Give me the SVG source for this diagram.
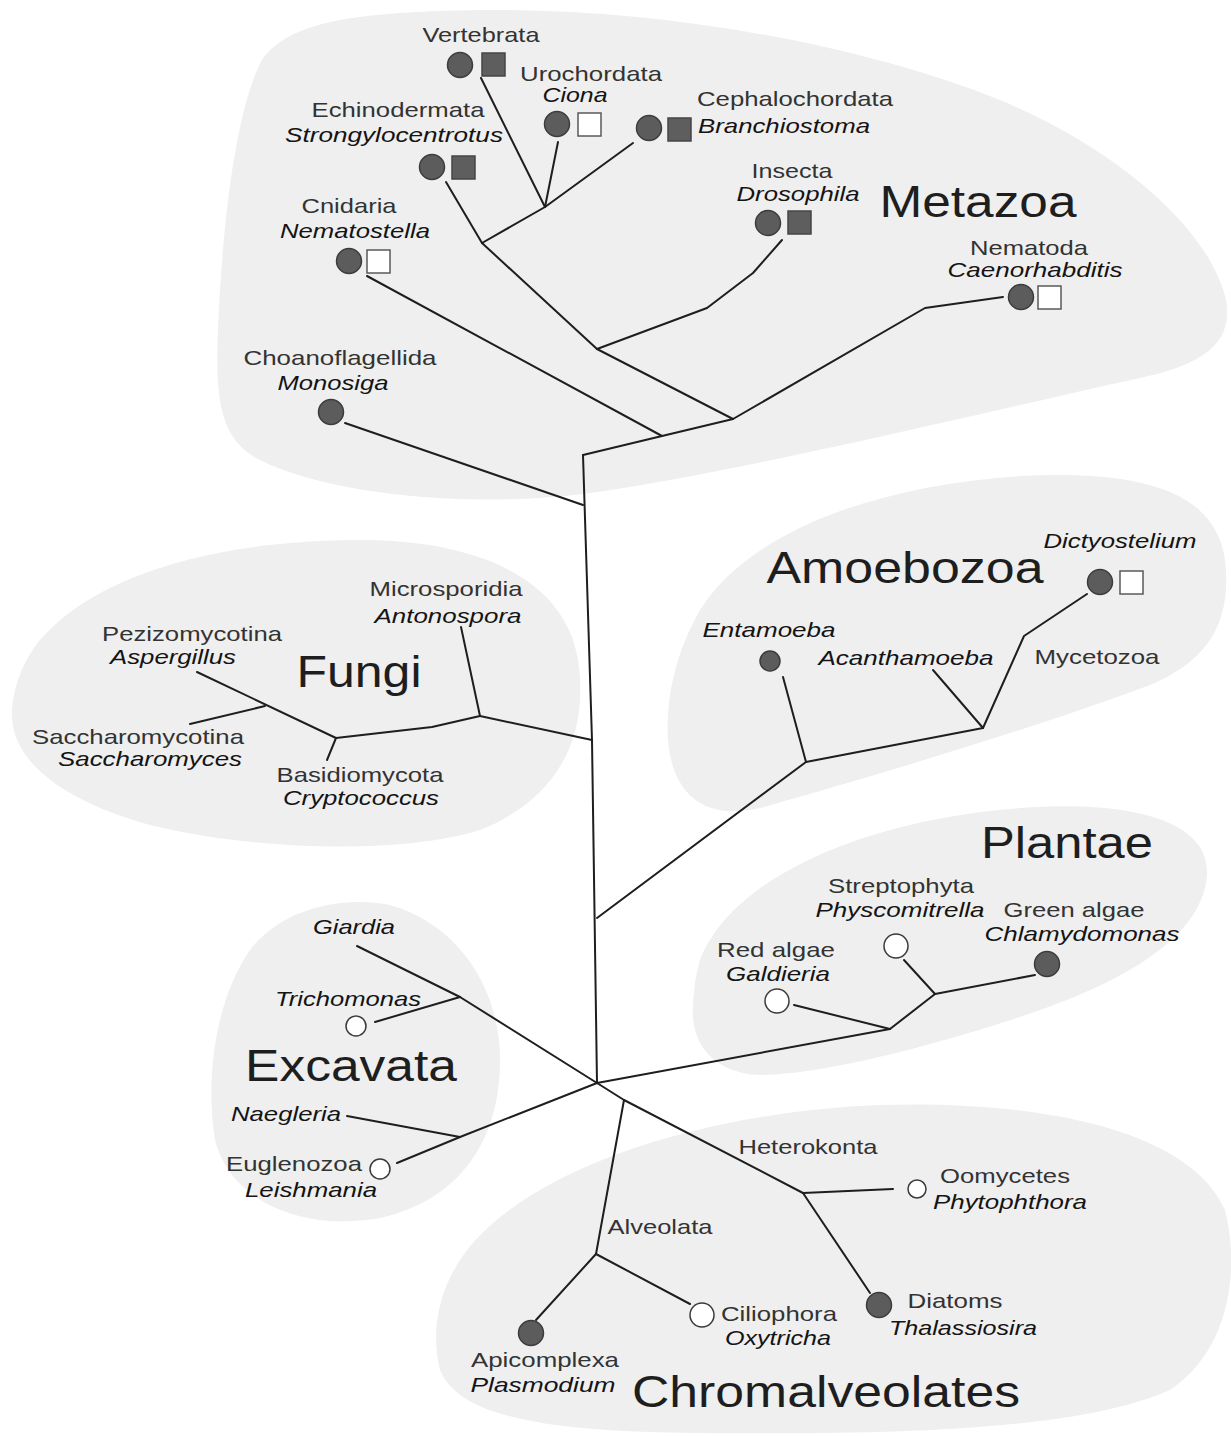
<svg xmlns="http://www.w3.org/2000/svg" width="1231" height="1436" viewBox="0 0 1231 1436">
<style>
.blob{fill:#efefef;stroke:none}
.edge{fill:none;stroke:#1e1e1e;stroke-width:2;stroke-linejoin:round;stroke-linecap:round}
.dk{fill:#5c5c5c;stroke:#3c3c3c;stroke-width:1.5}
.wt{fill:#ffffff;stroke:#3a3a3a;stroke-width:1.5}
.sqd{fill:#5e5e5e;stroke:#454545;stroke-width:1.5}
.sqw{fill:#ffffff;stroke:#5a5a5a;stroke-width:1.5}
text{font-family:"Liberation Sans",Arial,sans-serif;text-anchor:middle}
.r{font-size:21px;fill:#333333}
.i{font-size:21px;font-style:italic;fill:#141414}
.big{font-size:44px;fill:#1e1e1e}
</style>
<rect width="1231" height="1436" fill="#ffffff"/>
<g id="groups">
<path id="blob-metazoa" class="blob" d="M262,60 C290,20 360,12 480,10 C650,8 850,40 1000,100 C1120,150 1210,230 1226,300 C1234,345 1200,365 1140,378 C950,420 750,470 583,494 C470,508 330,495 260,460 C220,440 215,400 218,330 C222,230 235,110 262,60 Z"/>
<path id="blob-fungi" class="blob" d="M40,640 C100,570 230,540 360,540 C480,540 565,580 578,660 C590,740 555,800 480,830 C400,855 250,850 150,825 C60,800 12,760 12,715 C12,690 22,662 40,640 Z"/>
<path id="blob-amoebozoa" class="blob" d="M700,610 C750,530 880,485 1020,476 C1140,470 1215,490 1225,560 C1232,620 1210,660 1150,685 C1030,730 860,780 760,808 C700,822 672,790 668,740 C665,690 680,645 700,610 Z"/>
<path id="blob-plantae" class="blob" d="M700,960 C730,880 860,820 1020,808 C1130,800 1210,820 1207,875 C1203,930 1140,975 1040,1010 C940,1045 820,1075 760,1075 C710,1073 690,1040 693,1005 C694,988 696,973 700,960 Z"/>
<path id="blob-excavata" class="blob" d="M250,950 C280,910 340,895 390,905 C460,925 500,990 500,1060 C500,1140 460,1200 380,1218 C300,1232 230,1200 215,1140 C205,1080 215,1000 250,950 Z"/>
<path id="blob-chromalveolates" class="blob" d="M460,1260 C520,1170 700,1112 880,1105 C1040,1100 1190,1130 1225,1210 C1240,1270 1230,1350 1170,1390 C1080,1430 900,1435 700,1433 C560,1432 460,1420 440,1370 C430,1330 440,1290 460,1260 Z"/>
</g>
<g id="connectors">
<polyline class="edge" points="583,455 592,740 597,1083"/>
<polyline class="edge" points="345,423 583,505"/>
<polyline class="edge" points="583,455 662,436 733,419"/>
<polyline class="edge" points="367,276 662,436"/>
<polyline class="edge" points="733,419 597,349"/>
<polyline class="edge" points="597,349 707,308 753,273 782,240"/>
<polyline class="edge" points="733,419 925,308 1003,297"/>
<polyline class="edge" points="597,349 482,243"/>
<polyline class="edge" points="482,243 446,182"/>
<polyline class="edge" points="482,243 545,207"/>
<polyline class="edge" points="545,207 481,78"/>
<polyline class="edge" points="545,207 558,142"/>
<polyline class="edge" points="545,207 633,143"/>
<polyline class="edge" points="592,740 480,716"/>
<polyline class="edge" points="480,716 461,627"/>
<polyline class="edge" points="480,716 432,727 336,738"/>
<polyline class="edge" points="336,738 327,760"/>
<polyline class="edge" points="336,738 197,672"/>
<polyline class="edge" points="265,706 190,724"/>
<polyline class="edge" points="597,918 806,762"/>
<polyline class="edge" points="806,762 783,677"/>
<polyline class="edge" points="806,762 983,728"/>
<polyline class="edge" points="983,728 933,670"/>
<polyline class="edge" points="983,728 1024,636 1087,594"/>
<polyline class="edge" points="597,1083 890,1029"/>
<polyline class="edge" points="890,1029 794,1005"/>
<polyline class="edge" points="890,1029 935,994"/>
<polyline class="edge" points="935,994 904,960"/>
<polyline class="edge" points="935,994 1035,975"/>
<polyline class="edge" points="597,1083 460,997 357,946"/>
<polyline class="edge" points="460,997 375,1022"/>
<polyline class="edge" points="597,1083 460,1137"/>
<polyline class="edge" points="460,1137 347,1116"/>
<polyline class="edge" points="460,1137 397,1163"/>
<polyline class="edge" points="597,1083 624,1100 803,1193"/>
<polyline class="edge" points="624,1100 596,1254"/>
<polyline class="edge" points="596,1254 536,1320"/>
<polyline class="edge" points="596,1254 690,1304"/>
<polyline class="edge" points="803,1193 893,1189"/>
<polyline class="edge" points="803,1193 870,1293"/>
</g>
<g id="group-labels">
<text class="big" x="978" y="217" textLength="197" lengthAdjust="spacingAndGlyphs">Metazoa</text>
<text class="big" x="359" y="687" textLength="125" lengthAdjust="spacingAndGlyphs">Fungi</text>
<text class="big" x="905" y="583" textLength="277" lengthAdjust="spacingAndGlyphs">Amoebozoa</text>
<text class="big" x="1067" y="858" textLength="172" lengthAdjust="spacingAndGlyphs">Plantae</text>
<text class="big" x="351" y="1081" textLength="212" lengthAdjust="spacingAndGlyphs">Excavata</text>
<text class="big" x="826" y="1407" textLength="388" lengthAdjust="spacingAndGlyphs">Chromalveolates</text>
</g>
<g id="node-vertebrata">
<text class="r" x="481" y="42" textLength="117" lengthAdjust="spacingAndGlyphs">Vertebrata</text>
<circle class="dk" cx="460" cy="65" r="12.5"/>
<rect class="sqd" x="482" y="53" width="23" height="23"/>
</g>
<g id="node-urochordata">
<text class="r" x="591" y="81" textLength="142" lengthAdjust="spacingAndGlyphs">Urochordata</text>
<text class="i" x="575" y="102" textLength="65" lengthAdjust="spacingAndGlyphs">Ciona</text>
<circle class="dk" cx="557" cy="124" r="12.5"/>
<rect class="sqw" x="578" y="113" width="23" height="23"/>
</g>
<g id="node-echinodermata">
<text class="r" x="398" y="117" textLength="173" lengthAdjust="spacingAndGlyphs">Echinodermata</text>
<text class="i" x="394" y="142" textLength="218" lengthAdjust="spacingAndGlyphs">Strongylocentrotus</text>
<circle class="dk" cx="432" cy="167" r="12.5"/>
<rect class="sqd" x="452" y="156" width="23" height="23"/>
</g>
<g id="node-cephalochordata">
<text class="r" x="795" y="106" textLength="196" lengthAdjust="spacingAndGlyphs">Cephalochordata</text>
<text class="i" x="784" y="133" textLength="172" lengthAdjust="spacingAndGlyphs">Branchiostoma</text>
<circle class="dk" cx="649" cy="128" r="12.5"/>
<rect class="sqd" x="668" y="118" width="23" height="23"/>
</g>
<g id="node-insecta">
<text class="r" x="792" y="178" textLength="81" lengthAdjust="spacingAndGlyphs">Insecta</text>
<text class="i" x="798" y="201" textLength="123" lengthAdjust="spacingAndGlyphs">Drosophila</text>
<circle class="dk" cx="768" cy="223" r="12.5"/>
<rect class="sqd" x="788" y="211" width="23" height="23"/>
</g>
<g id="node-cnidaria">
<text class="r" x="349" y="213" textLength="95" lengthAdjust="spacingAndGlyphs">Cnidaria</text>
<text class="i" x="355" y="238" textLength="150" lengthAdjust="spacingAndGlyphs">Nematostella</text>
<circle class="dk" cx="349" cy="261" r="12.5"/>
<rect class="sqw" x="367" y="250" width="23" height="23"/>
</g>
<g id="node-nematoda">
<text class="r" x="1029" y="255" textLength="118" lengthAdjust="spacingAndGlyphs">Nematoda</text>
<text class="i" x="1035" y="277" textLength="175" lengthAdjust="spacingAndGlyphs">Caenorhabditis</text>
<circle class="dk" cx="1021" cy="297" r="12.5"/>
<rect class="sqw" x="1038" y="286" width="23" height="23"/>
</g>
<g id="node-choanoflagellida">
<text class="r" x="340" y="365" textLength="193" lengthAdjust="spacingAndGlyphs">Choanoflagellida</text>
<text class="i" x="333" y="390" textLength="111" lengthAdjust="spacingAndGlyphs">Monosiga</text>
<circle class="dk" cx="331" cy="412" r="12.5"/>
</g>
<g id="node-microsporidia">
<text class="r" x="446" y="596" textLength="153" lengthAdjust="spacingAndGlyphs">Microsporidia</text>
<text class="i" x="448" y="623" textLength="147" lengthAdjust="spacingAndGlyphs">Antonospora</text>
</g>
<g id="node-pezizomycotina">
<text class="r" x="192" y="641" textLength="180" lengthAdjust="spacingAndGlyphs">Pezizomycotina</text>
<text class="i" x="173" y="664" textLength="126" lengthAdjust="spacingAndGlyphs">Aspergillus</text>
</g>
<g id="node-saccharomycotina">
<text class="r" x="138" y="744" textLength="212" lengthAdjust="spacingAndGlyphs">Saccharomycotina</text>
<text class="i" x="150" y="766" textLength="184" lengthAdjust="spacingAndGlyphs">Saccharomyces</text>
</g>
<g id="node-basidiomycota">
<text class="r" x="360" y="782" textLength="167" lengthAdjust="spacingAndGlyphs">Basidiomycota</text>
<text class="i" x="361" y="805" textLength="156" lengthAdjust="spacingAndGlyphs">Cryptococcus</text>
</g>
<g id="node-dictyostelium">
<text class="i" x="1120" y="548" textLength="153" lengthAdjust="spacingAndGlyphs">Dictyostelium</text>
<circle class="dk" cx="1100" cy="582" r="12.5"/>
<rect class="sqw" x="1120" y="571" width="23" height="23"/>
</g>
<g id="node-entamoeba">
<text class="i" x="769" y="637" textLength="133" lengthAdjust="spacingAndGlyphs">Entamoeba</text>
<circle class="dk" cx="770" cy="661" r="10"/>
</g>
<g id="node-acanthamoeba">
<text class="i" x="906" y="665" textLength="175" lengthAdjust="spacingAndGlyphs">Acanthamoeba</text>
</g>
<g id="node-mycetozoa">
<text class="r" x="1097" y="664" textLength="125" lengthAdjust="spacingAndGlyphs">Mycetozoa</text>
</g>
<g id="node-streptophyta">
<text class="r" x="901" y="893" textLength="146" lengthAdjust="spacingAndGlyphs">Streptophyta</text>
<text class="i" x="900" y="917" textLength="169" lengthAdjust="spacingAndGlyphs">Physcomitrella</text>
<circle class="wt" cx="896" cy="946" r="12"/>
</g>
<g id="node-greenalgae">
<text class="r" x="1074" y="917" textLength="141" lengthAdjust="spacingAndGlyphs">Green algae</text>
<text class="i" x="1082" y="941" textLength="195" lengthAdjust="spacingAndGlyphs">Chlamydomonas</text>
<circle class="dk" cx="1047" cy="964" r="12.5"/>
</g>
<g id="node-redalgae">
<text class="r" x="776" y="957" textLength="118" lengthAdjust="spacingAndGlyphs">Red algae</text>
<text class="i" x="778" y="981" textLength="104" lengthAdjust="spacingAndGlyphs">Galdieria</text>
<circle class="wt" cx="777" cy="1001" r="12"/>
</g>
<g id="node-giardia">
<text class="i" x="354" y="934" textLength="82" lengthAdjust="spacingAndGlyphs">Giardia</text>
</g>
<g id="node-trichomonas">
<text class="i" x="348" y="1006" textLength="146" lengthAdjust="spacingAndGlyphs">Trichomonas</text>
<circle class="wt" cx="356" cy="1026" r="10"/>
</g>
<g id="node-naegleria">
<text class="i" x="286" y="1121" textLength="110" lengthAdjust="spacingAndGlyphs">Naegleria</text>
</g>
<g id="node-euglenozoa">
<text class="r" x="294" y="1171" textLength="136" lengthAdjust="spacingAndGlyphs">Euglenozoa</text>
<text class="i" x="311" y="1197" textLength="132" lengthAdjust="spacingAndGlyphs">Leishmania</text>
<circle class="wt" cx="380" cy="1169" r="10"/>
</g>
<g id="node-heterokonta">
<text class="r" x="808" y="1154" textLength="139" lengthAdjust="spacingAndGlyphs">Heterokonta</text>
</g>
<g id="node-oomycetes">
<text class="r" x="1005" y="1183" textLength="130" lengthAdjust="spacingAndGlyphs">Oomycetes</text>
<text class="i" x="1010" y="1209" textLength="154" lengthAdjust="spacingAndGlyphs">Phytophthora</text>
<circle class="wt" cx="917" cy="1189" r="9"/>
</g>
<g id="node-diatoms">
<text class="r" x="955" y="1308" textLength="95" lengthAdjust="spacingAndGlyphs">Diatoms</text>
<text class="i" x="963" y="1335" textLength="148" lengthAdjust="spacingAndGlyphs">Thalassiosira</text>
<circle class="dk" cx="879" cy="1305" r="12.5"/>
</g>
<g id="node-alveolata">
<text class="r" x="660" y="1234" textLength="105" lengthAdjust="spacingAndGlyphs">Alveolata</text>
</g>
<g id="node-ciliophora">
<text class="r" x="779" y="1321" textLength="116" lengthAdjust="spacingAndGlyphs">Ciliophora</text>
<text class="i" x="778" y="1345" textLength="106" lengthAdjust="spacingAndGlyphs">Oxytricha</text>
<circle class="wt" cx="702" cy="1315" r="12"/>
</g>
<g id="node-apicomplexa">
<text class="r" x="545" y="1367" textLength="148" lengthAdjust="spacingAndGlyphs">Apicomplexa</text>
<text class="i" x="543" y="1392" textLength="145" lengthAdjust="spacingAndGlyphs">Plasmodium</text>
<circle class="dk" cx="531" cy="1333" r="12.5"/>
</g>
</svg>
